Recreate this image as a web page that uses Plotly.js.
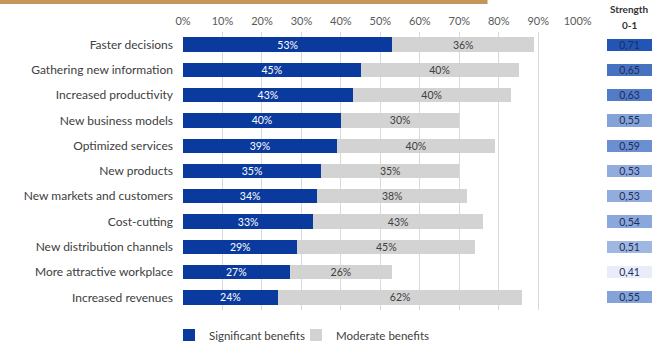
<!DOCTYPE html>
<html>
<head>
<meta charset="utf-8">
<script src="https://cdn.plot.ly/plotly-3.0.1.min.js"></script>
<style>html,body{margin:0;padding:0;background:#fff;}#chart{width:656px;height:343px;}</style>
</head>
<body>
<div id="chart"></div>
<script>
const categories = ['Faster decisions','Gathering new information','Increased productivity','New business models','Optimized services','New products','New markets and customers','Cost-cutting','New distribution channels','More attractive workplace','Increased revenues'];
const significant = [53,45,43,40,39,35,34,33,29,27,24];
const moderate = [36,40,40,30,40,35,38,43,45,26,62];
const strength = [0.71,0.65,0.63,0.55,0.59,0.53,0.53,0.54,0.51,0.41,0.55];
const tickVals = [0,10,20,30,40,50,60,70,80,90,100];

const FONT = 'Lato, "Open Sans", sans-serif';
const ones = strength.map(() => 1);

const traces = [
  {
    type: 'bar', orientation: 'h', name: 'Significant benefits',
    y: categories, x: significant, legend: 'legend',
    marker: {color: '#0a3a9e'},
    text: significant.map(v => v + '%'), textposition: 'inside', insidetextanchor: 'middle',
    constraintext: 'none',
    textfont: {color: '#ffffff', size: 10.5, family: FONT},
    hoverinfo: 'none'
  },
  {
    type: 'bar', orientation: 'h', name: 'Moderate benefits',
    y: categories, x: moderate, legend: 'legend2',
    marker: {color: '#d3d3d3'},
    text: moderate.map(v => v + '%'), textposition: 'inside', insidetextanchor: 'middle',
    constraintext: 'none',
    textfont: {color: '#404040', size: 10.5, family: FONT},
    hoverinfo: 'none'
  },
  {
    type: 'bar', orientation: 'h', name: 'Strength',
    y: categories, x: ones, xaxis: 'x2', yaxis: 'y',
    width: 0.48, showlegend: false,
    marker: {color: strength, cmin: 0.41, cmax: 0.71,
      colorscale: [[0, '#e8eef9'], [0.45, '#86a5da'], [1, '#2255b5']]},
    text: strength.map(v => v.toFixed(2).replace('.', ',')),
    textposition: 'inside', insidetextanchor: 'middle', constraintext: 'none',
    textfont: {color: '#1f2d5a', size: 10.5, family: FONT},
    hoverinfo: 'none'
  }
];

const legendBase = {orientation: 'h', xref: 'container', yref: 'container',
  y: (343 - 335) / 343, xanchor: 'left', yanchor: 'middle',
  bgcolor: 'rgba(0,0,0,0)', borderwidth: 0,
  font: {size: 11.5, color: '#404040', family: FONT}, itemwidth: 30};

const layout = {
  width: 656, height: 343,
  margin: {l: 183, r: 3, t: 32, b: 33},
  paper_bgcolor: '#ffffff', plot_bgcolor: '#ffffff',
  font: {family: FONT, color: '#404040', size: 11},
  barmode: 'stack', bargap: 0.43,
  showlegend: true,
  legend: Object.assign({}, legendBase, {x: 169 / 656}),
  legend2: Object.assign({}, legendBase, {x: 296 / 656}),
  xaxis: {
    domain: [0, 0.8398], range: [0, 100], side: 'top',
    tickvals: tickVals, ticktext: tickVals.map(v => v + '%'),
    showgrid: true, gridcolor: '#d9d9d9', gridwidth: 1,
    zeroline: false, showline: false, ticks: '', ticklabelstandoff: 4,
    tickfont: {size: 11, color: '#595959', family: FONT},
    fixedrange: true
  },
  xaxis2: {
    domain: [0.9015, 0.9985], range: [0, 1], anchor: 'y',
    showgrid: false, zeroline: false, showticklabels: false, showline: false
  },
  yaxis: {
    autorange: false, range: [10.5, -0.5], type: 'category',
    showgrid: false, zeroline: false, ticks: '', ticklen: 0, ticklabelstandoff: 9,
    tickfont: {size: 12, color: '#404040', family: FONT}
  },
  annotations: [
    {xref: 'paper', yref: 'paper', x: 0.951, y: 1.083, text: '<b>Strength</b>', showarrow: false,
      font: {size: 10, color: '#333333', family: FONT}, xanchor: 'center', yanchor: 'middle'},
    {xref: 'paper', yref: 'paper', x: 0.951, y: 1.025, text: '<b>0-1</b>', showarrow: false,
      font: {size: 10, color: '#333333', family: FONT}, xanchor: 'center', yanchor: 'middle'}
  ],
  shapes: [
    {type: 'rect', xref: 'paper', yref: 'paper', x0: -0.40, x1: 0.648, y0: 1.101, y1: 1.2,
      fillcolor: '#c6955a', line: {width: 0}, layer: 'above'}
  ]
};

Plotly.newPlot('chart', traces, layout, {displayModeBar: false, staticPlot: true});
</script>
</body>
</html>
